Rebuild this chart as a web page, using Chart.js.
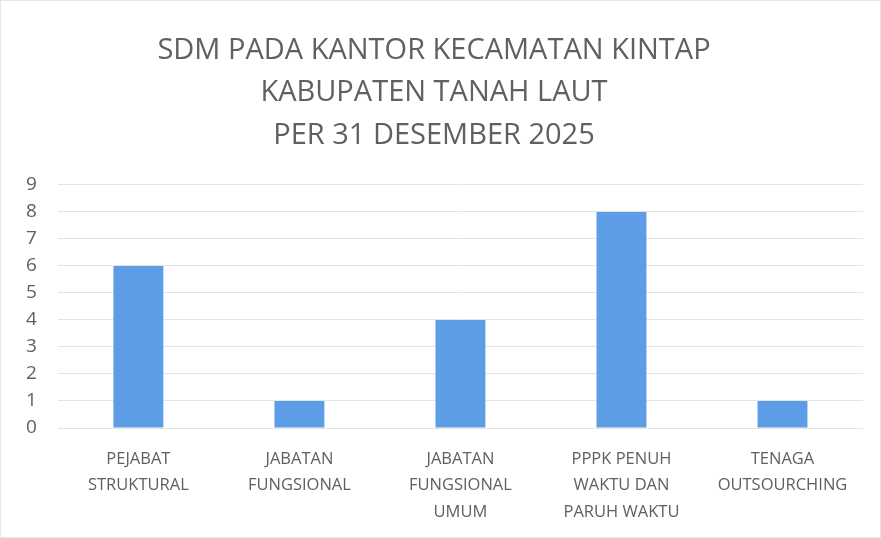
<!DOCTYPE html>
<html>
<head>
<meta charset="utf-8">
<script src="https://cdn.jsdelivr.net/npm/chart.js"></script>
<style>
  html, body { margin: 0; padding: 0; background: #ffffff; }
  #wrap { position: relative; width: 881px; height: 538px; outline: 1px solid #e6e6e6; outline-offset: -1px; }
</style>
</head>
<body>
<div id="wrap"><canvas id="chart"></canvas></div>
<script>
// Data
const categories = [
    ['PEJABAT', 'STRUKTURAL'],
    ['JABATAN', 'FUNGSIONAL'],
    ['JABATAN', 'FUNGSIONAL', 'UMUM'],
    ['PPPK PENUH', 'WAKTU DAN', 'PARUH WAKTU'],
    ['TENAGA', 'OUTSOURCHING']
];
const values = [6, 1, 4, 8, 1];
const titleLines = [
    'SDM PADA KANTOR KECAMATAN KINTAP',
    'KABUPATEN TANAH LAUT',
    'PER 31 DESEMBER 2025'
];

const textColor = '#606060';
const fontFamily = "'Open Sans', 'Noto Sans', sans-serif";

new Chart(document.getElementById('chart'), {
    type: 'bar',
    data: {
        labels: categories,
        datasets: [{
            data: values,
            backgroundColor: '#5c9de6',
            borderWidth: 0,
            barPercentage: 0.31,
            categoryPercentage: 1
        }]
    },
    options: {
        responsive: true,
        maintainAspectRatio: false,
        animation: false,
        layout: {
            padding: { left: 5, right: 18, top: 29, bottom: 8 }
        },
        plugins: {
            legend: { display: false },
            tooltip: { enabled: false },
            title: {
                display: true,
                text: titleLines,
                color: textColor,
                font: { family: fontFamily, size: 29, weight: 'normal', lineHeight: 1.47 },
                padding: { top: 0, bottom: 28 }
            }
        },
        scales: {
            x: {
                grid: { display: false },
                border: { display: false },
                afterFit: (scale) => { scale.height = 102; },
                ticks: {
                    color: textColor,
                    font: { family: fontFamily, size: 16.5, lineHeight: 1.6 },
                    maxRotation: 0,
                    autoSkip: false,
                    padding: 10
                }
            },
            y: {
                min: 0,
                max: 9,
                grid: { color: '#e4e4e4', lineWidth: 1, drawTicks: false },
                border: { display: false },
                ticks: {
                    stepSize: 1,
                    color: textColor,
                    font: { family: fontFamily, size: 19 },
                    padding: 21
                }
            }
        }
    }
});
</script>
</body>
</html>
